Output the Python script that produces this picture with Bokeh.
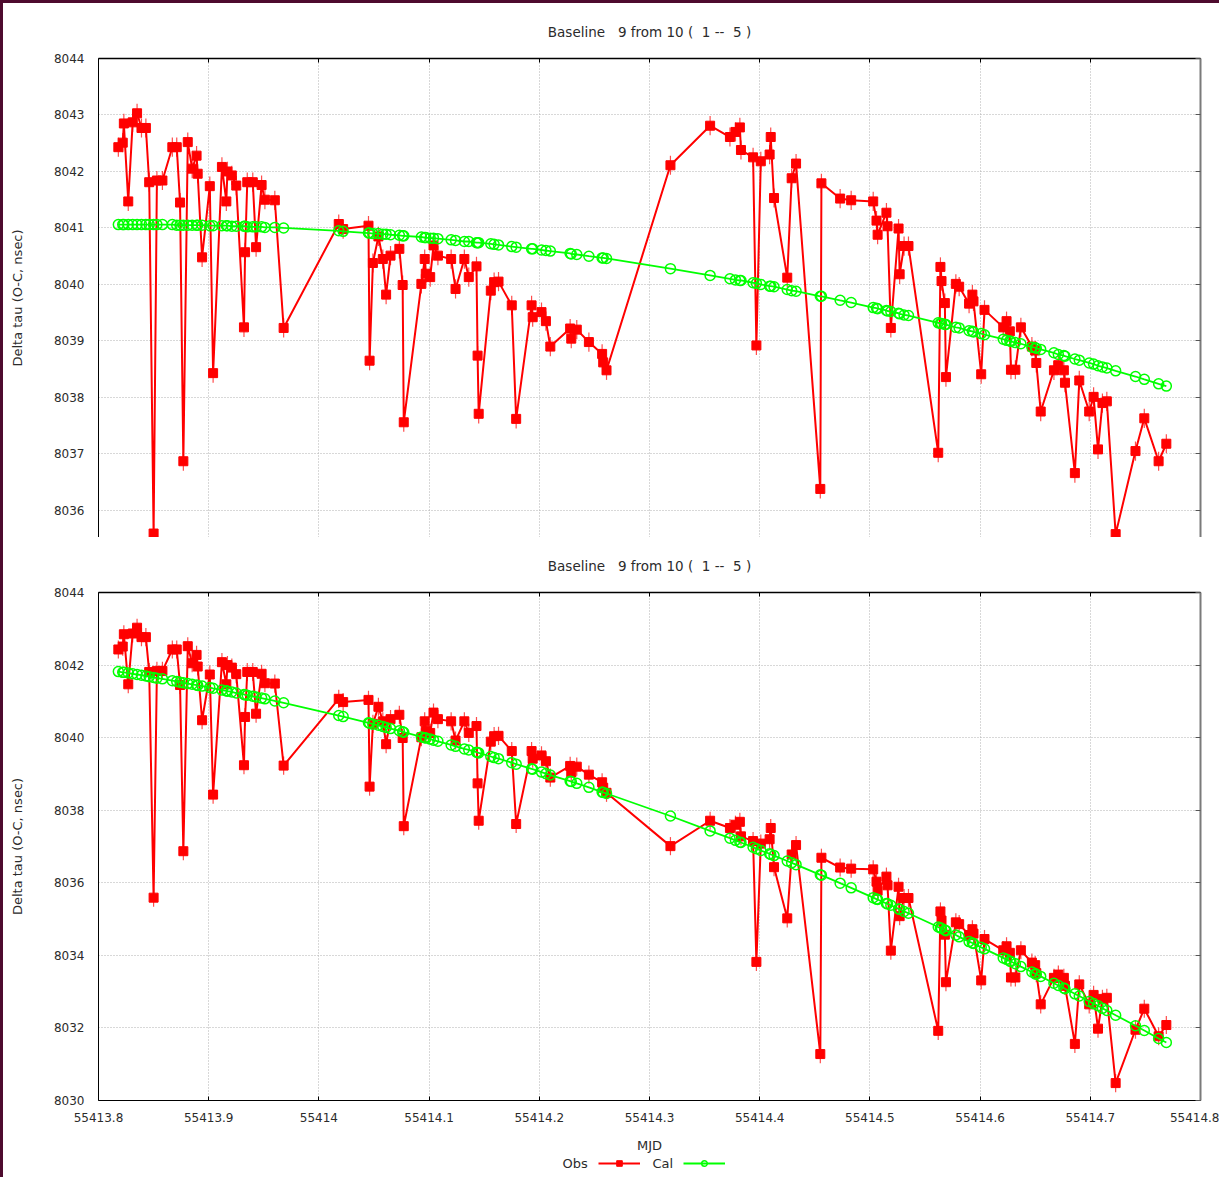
from bokeh.plotting import figure
from bokeh.models import (ColumnDataSource, Range1d, LinearAxis, FixedTicker, Grid,
                          CustomJSTickFormatter, Legend, LegendItem, Label)
from bokeh.layouts import column
from bokeh.embed import file_html
from bokeh.resources import INLINE

FONT = "DejaVu Sans"
TEXT = "#2b2b2b"
RED = "#ff0000"
GREEN = "#00ff00"

# runs of spaces kept as no-break spaces so the SVG text keeps its spacing
title_text = "Baseline\u00a0\u00a0 9 from 10 (\u00a0 1 --\u00a0 5 )"
y_label = "Delta tau (O-C, nsec)"
x_label = "MJD"
obs_name = "Obs"
cal_name = "Cal"

x_ticks = [55413.8, 55413.9, 55414.0, 55414.1, 55414.2, 55414.3,
           55414.4, 55414.5, 55414.6, 55414.7, 55414.8]
x_tick_labels = ["55413.8", "55413.9", "55414", "55414.1", "55414.2", "55414.3",
                 "55414.4", "55414.5", "55414.6", "55414.7", "55414.8"]
top_y_ticks = [8036, 8037, 8038, 8039, 8040, 8041, 8042, 8043, 8044]
bottom_y_ticks = [8030, 8032, 8034, 8036, 8038, 8040, 8042, 8044]

# observation epochs (MJD)
mjd = [
    55413.818, 55413.822, 55413.823, 55413.827, 55413.831, 55413.835, 55413.839, 55413.843, 55413.846, 55413.850,
    55413.853, 55413.858, 55413.867, 55413.871, 55413.874, 55413.877, 55413.881, 55413.885, 55413.889, 55413.890,
    55413.894, 55413.901, 55413.904, 55413.912, 55413.916, 55413.917, 55413.921, 55413.925, 55413.932, 55413.933,
    55413.935, 55413.940, 55413.943, 55413.948, 55413.951, 55413.960, 55413.968, 55414.018, 55414.022, 55414.045,
    55414.046, 55414.049, 55414.054, 55414.058, 55414.061, 55414.065, 55414.073, 55414.076, 55414.077, 55414.093,
    55414.096, 55414.097, 55414.101, 55414.104, 55414.108, 55414.120, 55414.124, 55414.132, 55414.136, 55414.143,
    55414.144, 55414.145, 55414.156, 55414.159, 55414.163, 55414.175, 55414.179, 55414.193, 55414.194, 55414.202,
    55414.206, 55414.210, 55414.228, 55414.229, 55414.234, 55414.245, 55414.257, 55414.258, 55414.261, 55414.319,
    55414.355, 55414.373, 55414.378, 55414.382, 55414.383, 55414.394, 55414.397, 55414.401, 55414.409, 55414.410,
    55414.413, 55414.425, 55414.429, 55414.433, 55414.455, 55414.456, 55414.473, 55414.483, 55414.503, 55414.506,
    55414.507, 55414.515, 55414.516, 55414.519, 55414.526, 55414.527, 55414.531, 55414.535, 55414.562, 55414.564,
    55414.565, 55414.568, 55414.569, 55414.578, 55414.581, 55414.590, 55414.593, 55414.594, 55414.601, 55414.604,
    55414.621, 55414.624, 55414.627, 55414.628, 55414.632, 55414.637, 55414.647, 55414.650, 55414.651, 55414.655,
    55414.667, 55414.671, 55414.676, 55414.677, 55414.686, 55414.690, 55414.699, 55414.703, 55414.707, 55414.711,
    55414.715, 55414.723, 55414.741, 55414.749, 55414.762, 55414.769,
]

# upper panel: observed and calibrated delays (nsec)
obs_top = [
    8042.43, 8042.51, 8042.85, 8041.47, 8042.87, 8043.03, 8042.77, 8042.77, 8041.81, 8035.59,
    8041.84, 8041.84, 8042.43, 8042.43, 8041.45, 8036.87, 8042.52, 8042.05, 8042.28, 8041.96,
    8040.48, 8041.74, 8038.43, 8042.08, 8041.47, 8042.00, 8041.93, 8041.75, 8039.24, 8040.57,
    8041.81, 8041.81, 8040.66, 8041.76, 8041.50, 8041.49, 8039.23, 8041.07, 8040.98, 8041.04,
    8038.65, 8040.38, 8040.85, 8040.45, 8039.82, 8040.51, 8040.63, 8039.99, 8037.56, 8040.01,
    8040.45, 8040.19, 8040.13, 8040.69, 8040.51, 8040.45, 8039.92, 8040.45, 8040.13, 8040.32,
    8038.74, 8037.71, 8039.89, 8040.04, 8040.05, 8039.63, 8037.62, 8039.63, 8039.42, 8039.51,
    8039.35, 8038.90, 8039.22, 8039.04, 8039.20, 8038.98, 8038.77, 8038.62, 8038.48, 8042.11,
    8042.81, 8042.61, 8042.70, 8042.78, 8042.38, 8042.25, 8038.92, 8042.18, 8042.30, 8042.61,
    8041.53, 8040.12, 8041.88, 8042.14, 8036.38, 8041.79, 8041.52, 8041.49, 8041.47, 8041.13,
    8040.88, 8041.27, 8041.03, 8039.23, 8040.99, 8040.18, 8040.68, 8040.68, 8037.02, 8040.31,
    8040.06, 8039.67, 8038.36, 8040.01, 8039.96, 8039.66, 8039.82, 8039.70, 8038.41, 8039.55,
    8039.24, 8039.35, 8039.17, 8038.49, 8038.49, 8039.24, 8038.90, 8038.83, 8038.61, 8037.75,
    8038.48, 8038.57, 8038.48, 8038.26, 8036.66, 8038.30, 8037.75, 8038.01, 8037.08, 8037.90,
    8037.93, 8035.58, 8037.05, 8037.63, 8036.87, 8037.18,
]
cal_top = [
    8041.06, 8041.06, 8041.06, 8041.06, 8041.06, 8041.06, 8041.06, 8041.06, 8041.06, 8041.06,
    8041.06, 8041.06, 8041.06, 8041.05, 8041.05, 8041.05, 8041.05, 8041.05, 8041.05, 8041.05,
    8041.05, 8041.04, 8041.04, 8041.04, 8041.04, 8041.04, 8041.03, 8041.03, 8041.03, 8041.03,
    8041.02, 8041.02, 8041.02, 8041.02, 8041.01, 8041.01, 8041.00, 8040.95, 8040.94, 8040.91,
    8040.91, 8040.90, 8040.90, 8040.89, 8040.89, 8040.88, 8040.87, 8040.86, 8040.86, 8040.84,
    8040.83, 8040.83, 8040.82, 8040.82, 8040.81, 8040.79, 8040.78, 8040.76, 8040.76, 8040.74,
    8040.74, 8040.74, 8040.72, 8040.71, 8040.70, 8040.67, 8040.66, 8040.63, 8040.63, 8040.61,
    8040.60, 8040.59, 8040.55, 8040.54, 8040.53, 8040.50, 8040.47, 8040.47, 8040.46, 8040.28,
    8040.16, 8040.10, 8040.08, 8040.07, 8040.07, 8040.03, 8040.02, 8040.00, 8039.97, 8039.97,
    8039.96, 8039.91, 8039.89, 8039.88, 8039.79, 8039.79, 8039.72, 8039.68, 8039.59, 8039.58,
    8039.57, 8039.54, 8039.53, 8039.52, 8039.49, 8039.48, 8039.46, 8039.45, 8039.32, 8039.31,
    8039.31, 8039.29, 8039.29, 8039.24, 8039.23, 8039.18, 8039.17, 8039.16, 8039.13, 8039.11,
    8039.03, 8039.01, 8039.00, 8038.99, 8038.97, 8038.95, 8038.89, 8038.88, 8038.87, 8038.85,
    8038.79, 8038.76, 8038.74, 8038.73, 8038.68, 8038.66, 8038.61, 8038.59, 8038.56, 8038.54,
    8038.52, 8038.47, 8038.37, 8038.32, 8038.24, 8038.20,
]

# lower panel: observed and calibrated delays (nsec)
obs = [
    8042.43, 8042.51, 8042.85, 8041.47, 8042.87, 8043.03, 8042.77, 8042.77, 8041.81, 8035.59,
    8041.84, 8041.84, 8042.43, 8042.43, 8041.45, 8036.87, 8042.52, 8042.05, 8042.28, 8041.96,
    8040.48, 8041.74, 8038.43, 8042.08, 8041.47, 8042.00, 8041.93, 8041.75, 8039.24, 8040.57,
    8041.81, 8041.81, 8040.66, 8041.76, 8041.50, 8041.49, 8039.23, 8041.07, 8040.98, 8041.04,
    8038.65, 8040.38, 8040.85, 8040.45, 8039.82, 8040.51, 8040.63, 8039.99, 8037.56, 8040.01,
    8040.45, 8040.19, 8040.13, 8040.69, 8040.51, 8040.45, 8039.92, 8040.45, 8040.13, 8040.32,
    8038.74, 8037.71, 8039.89, 8040.04, 8040.05, 8039.63, 8037.62, 8039.63, 8039.42, 8039.51,
    8039.35, 8038.90, 8039.22, 8039.04, 8039.20, 8038.98, 8038.77, 8038.62, 8038.48, 8037.01,
    8037.71, 8037.51, 8037.60, 8037.68, 8037.28, 8037.15, 8033.82, 8037.08, 8037.20, 8037.51,
    8036.43, 8035.02, 8036.78, 8037.04, 8031.28, 8036.69, 8036.42, 8036.39, 8036.37, 8036.03,
    8035.78, 8036.17, 8035.93, 8034.13, 8035.89, 8035.08, 8035.58, 8035.58, 8031.92, 8035.21,
    8034.96, 8034.57, 8033.26, 8034.91, 8034.86, 8034.56, 8034.72, 8034.60, 8033.31, 8034.45,
    8034.14, 8034.25, 8034.07, 8033.39, 8033.39, 8034.14, 8033.80, 8033.73, 8033.51, 8032.65,
    8033.38, 8033.47, 8033.38, 8033.16, 8031.56, 8033.20, 8032.65, 8032.91, 8031.98, 8032.80,
    8032.83, 8030.48, 8031.95, 8032.53, 8031.77, 8032.08,
]
cal = [
    8041.82, 8041.80, 8041.80, 8041.78, 8041.76, 8041.74, 8041.72, 8041.70, 8041.68, 8041.66,
    8041.64, 8041.62, 8041.57, 8041.55, 8041.53, 8041.51, 8041.49, 8041.47, 8041.45, 8041.44,
    8041.42, 8041.38, 8041.36, 8041.31, 8041.29, 8041.28, 8041.26, 8041.23, 8041.19, 8041.18,
    8041.17, 8041.14, 8041.12, 8041.09, 8041.07, 8041.01, 8040.96, 8040.61, 8040.58, 8040.41,
    8040.40, 8040.37, 8040.34, 8040.31, 8040.28, 8040.25, 8040.19, 8040.16, 8040.15, 8040.02,
    8040.00, 8039.99, 8039.96, 8039.93, 8039.90, 8039.80, 8039.76, 8039.69, 8039.66, 8039.60,
    8039.59, 8039.58, 8039.48, 8039.45, 8039.42, 8039.31, 8039.27, 8039.14, 8039.13, 8039.05,
    8039.01, 8038.97, 8038.80, 8038.79, 8038.74, 8038.63, 8038.50, 8038.49, 8038.46, 8037.84,
    8037.43, 8037.23, 8037.17, 8037.12, 8037.11, 8036.98, 8036.94, 8036.89, 8036.80, 8036.78,
    8036.75, 8036.60, 8036.55, 8036.50, 8036.22, 8036.21, 8035.99, 8035.86, 8035.59, 8035.55,
    8035.54, 8035.43, 8035.42, 8035.38, 8035.28, 8035.27, 8035.21, 8035.16, 8034.78, 8034.76,
    8034.74, 8034.70, 8034.68, 8034.56, 8034.51, 8034.38, 8034.34, 8034.33, 8034.22, 8034.18,
    8033.93, 8033.89, 8033.84, 8033.83, 8033.77, 8033.69, 8033.54, 8033.49, 8033.48, 8033.42,
    8033.23, 8033.17, 8033.10, 8033.08, 8032.94, 8032.88, 8032.73, 8032.67, 8032.61, 8032.54,
    8032.48, 8032.35, 8032.06, 8031.93, 8031.71, 8031.60,
]

# delay uncertainty drawn as error bars (nsec)
err_top = 0.17
err_bottom = 0.25

FIG_W = 1216

OBS_LINE = dict(line_color=RED, line_width=2)
OBS_MARK = dict(marker="square", size=9, fill_color=RED, line_color=RED, line_width=1)
CAL_LINE = dict(line_color=GREEN, line_width=1.8)
CAL_MARK = dict(marker="circle", size=10, fill_alpha=0, line_color=GREEN, line_width=1.5)


def blank_labels():
    return CustomJSTickFormatter(code="return ''")


def make_panel(obs_vals, cal_vals, err, y_lo, y_hi, y_ticks, height, b_top, b_bottom, with_x_axis):
    src = ColumnDataSource(dict(
        x=mjd, obs=obs_vals, cal=cal_vals,
        lo=[v - err for v in obs_vals], hi=[v + err for v in obs_vals],
    ))
    p = figure(width=FIG_W, height=height,
               x_range=Range1d(x_ticks[0], x_ticks[-1]), y_range=Range1d(y_lo, y_hi),
               x_axis_type=None, y_axis_type=None,
               output_backend="svg", toolbar_location=None,
               min_border_left=95, min_border_right=19,
               min_border_top=b_top, min_border_bottom=b_bottom,
               title=title_text)
    p.outline_line_color = None
    p.background_fill_color = "white"
    p.border_fill_color = "white"

    p.title.align = "center"
    p.title.vertical_align = "middle"
    p.title.text_font = FONT
    p.title.text_font_size = "13.5px"
    p.title.text_font_style = "normal"
    p.title.text_color = TEXT
    p.title.standoff = 36

    xt = FixedTicker(ticks=x_ticks)
    yt = FixedTicker(ticks=y_ticks)

    for dim, tk in ((0, xt), (1, yt)):
        p.add_layout(Grid(dimension=dim, ticker=tk, grid_line_color="#b0b0b0",
                          grid_line_dash="1 2", grid_line_width=1))

    left = LinearAxis(ticker=yt, axis_label=y_label)
    left.axis_line_color = "black"
    left.axis_line_width = 1
    left.major_tick_in = 0
    left.major_tick_out = 0
    left.major_tick_line_color = None
    left.minor_tick_line_color = None
    left.major_label_standoff = 14
    left.major_label_text_font = FONT
    left.major_label_text_font_size = "12px"
    left.major_label_text_color = TEXT
    left.axis_label_text_font = FONT
    left.axis_label_text_font_size = "13px"
    left.axis_label_text_font_style = "normal"
    left.axis_label_text_color = TEXT
    left.axis_label_standoff = 26
    p.add_layout(left, "left")

    top = LinearAxis(ticker=xt, formatter=blank_labels())
    top.axis_line_color = "black"
    top.axis_line_width = 1.5
    top.major_tick_in = 4
    top.major_tick_out = 0
    top.major_tick_line_color = "black"
    top.minor_tick_line_color = None
    top.major_label_standoff = 0
    top.major_label_text_color = None
    p.add_layout(top, "above")

    right = LinearAxis(ticker=yt, formatter=blank_labels())
    right.axis_line_color = "#7a7a7a"
    right.axis_line_width = 2
    right.major_tick_in = 5
    right.major_tick_out = 0
    right.major_tick_line_color = "#555555"
    right.minor_tick_line_color = None
    right.major_label_standoff = 0
    right.major_label_text_color = None
    p.add_layout(right, "right")

    if with_x_axis:
        bottom = LinearAxis(ticker=xt, axis_label=x_label)
        bottom.major_label_overrides = dict(zip(x_ticks, x_tick_labels))
        bottom.axis_line_color = "black"
        bottom.major_tick_in = 4
        bottom.major_tick_out = 0
        bottom.major_tick_line_color = "black"
        bottom.minor_tick_line_color = None
        bottom.major_label_standoff = 12
        bottom.major_label_text_font = FONT
        bottom.major_label_text_font_size = "12px"
        bottom.major_label_text_color = TEXT
        bottom.axis_label_text_font = FONT
        bottom.axis_label_text_font_size = "13px"
        bottom.axis_label_text_font_style = "normal"
        bottom.axis_label_text_color = TEXT
        bottom.axis_label_standoff = 13
        p.add_layout(bottom, "below")

    p.segment(x0="x", y0="lo", x1="x", y1="hi", source=src,
              line_color=RED, line_width=1.2, line_alpha=0.7)
    p.line("x", "obs", source=src, **OBS_LINE)
    p.scatter("x", "obs", source=src, **OBS_MARK)
    p.line("x", "cal", source=src, **CAL_LINE)
    p.scatter("x", "cal", source=src, **CAL_MARK)
    return p


p_top = make_panel(obs_top, cal_top, err_top, 8035.52, 8044, top_y_ticks, 534, 55, 0, False)
p_bot = make_panel(obs, cal, err_bottom, 8030, 8044, bottom_y_ticks, 620, 55, 57, True)

# key strip under the lower panel (its frame lines up with the panels above):
# series name first, then its line sample.  The sample glyphs hold a single
# undrawable (NaN) point so that only their legend swatches appear.
p_key = figure(width=FIG_W, height=20, x_range=Range1d(0, 1), y_range=Range1d(0, 1),
               x_axis_type=None, y_axis_type=None, output_backend="svg",
               toolbar_location=None, min_border=0)
p_key.outline_line_color = None
p_key.background_fill_color = "white"
p_key.border_fill_color = "white"
nan = float("nan")
k_obs = [p_key.line(x=[nan], y=[nan], **OBS_LINE), p_key.scatter(x=[nan], y=[nan], **OBS_MARK)]
k_cal = [p_key.line(x=[nan], y=[nan], **CAL_LINE), p_key.scatter(x=[nan], y=[nan], **CAL_MARK)]
legend = Legend(items=[LegendItem(label=" ", renderers=k_obs),
                       LegendItem(label=" ", renderers=k_cal)],
                location=(500, 7), orientation="horizontal",
                glyph_width=42, glyph_height=14, label_width=0, label_height=14,
                label_standoff=0, spacing=43, padding=0, margin=0,
                label_text_font=FONT, label_text_font_size="13px",
                border_line_color=None, background_fill_alpha=0)
p_key.add_layout(legend)
for name, x in ((obs_name, 464), (cal_name, 554)):
    p_key.add_layout(Label(x=x, y=14, x_units="screen", y_units="screen", text=name,
                           text_font=FONT, text_font_size="13px", text_color=TEXT,
                           text_baseline="middle", text_align="left"))

layout = column(p_top, p_bot, p_key, spacing=0,
                styles={"border-left": "3px solid #4e0b2e", "border-top": "3px solid #4e0b2e",
                        "background-color": "white"})

open("out.html", "w").write(file_html(layout, INLINE))
